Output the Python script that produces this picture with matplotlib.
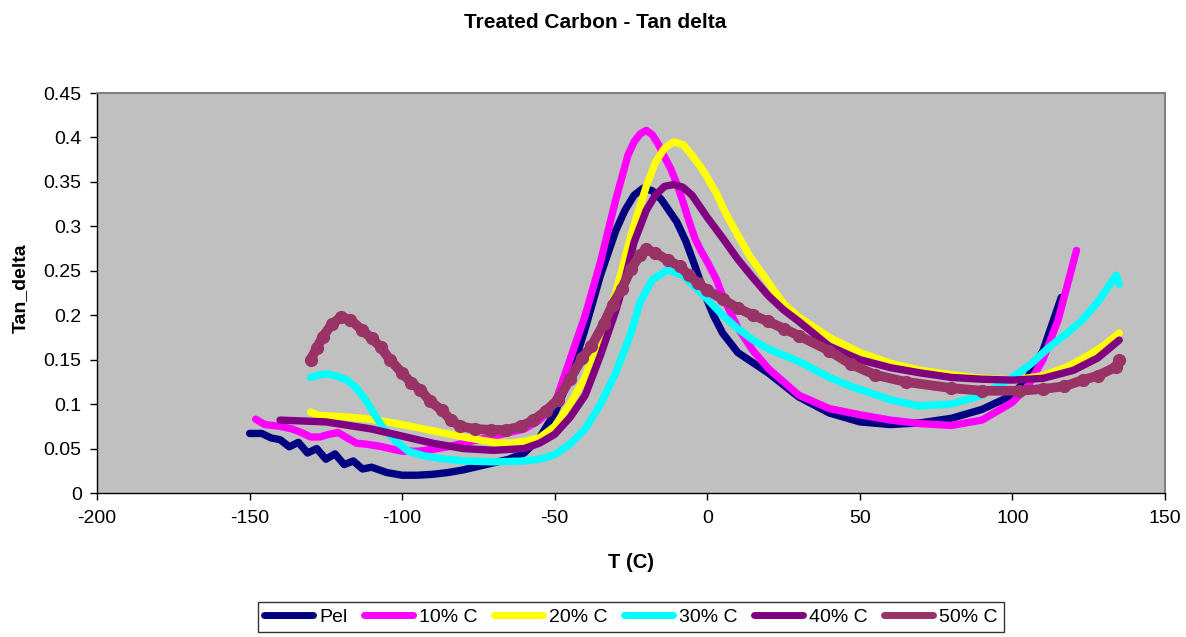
import matplotlib
matplotlib.use("Agg")
import matplotlib.pyplot as plt

plt.rcParams['font.family'] = ['Liberation Sans', 'DejaVu Sans']

title = "Treated Carbon - Tan delta"
xlabel = "T (C)"
ylabel = "Tan_delta"
series_names = ["Pel", "10% C", "20% C", "30% C", "40% C", "50% C"]
series_colors = ["#000080", "#FF00FF", "#FFFF00", "#00FFFF", "#800080", "#993366"]

pel_T = [-150, -146, -143, -140, -137, -134, -131, -128, -125, -122, -119, -116, -113, -110, -105, -100,
         -95, -90, -85, -80, -75, -70, -65, -60, -55, -50, -45, -40, -35, -30, -27, -24, -21, -18, -15, -12,
         -10, -7, -4, -1, 2, 5, 10, 20, 30, 40, 50, 60, 70, 80, 90, 100, 105, 110, 116]
pel_v = [0.067, 0.067, 0.062, 0.060, 0.052, 0.057, 0.045, 0.050, 0.038, 0.044, 0.032, 0.036, 0.027, 0.029,
         0.023, 0.020, 0.020, 0.021, 0.023, 0.026, 0.030, 0.034, 0.038, 0.045, 0.062, 0.090, 0.130, 0.185,
         0.245, 0.295, 0.318, 0.335, 0.343, 0.340, 0.330, 0.315, 0.305, 0.283, 0.255, 0.225, 0.200, 0.180,
         0.158, 0.135, 0.108, 0.090, 0.080, 0.077, 0.079, 0.084, 0.094, 0.110, 0.130, 0.160, 0.220]

c10_T = [-148, -145, -140, -136, -133, -130, -127, -124, -121, -118, -115, -112, -108, -104, -100, -95, -90,
         -85, -80, -75, -70, -65, -60, -55, -50, -45, -40, -35, -30, -26, -24, -22, -20, -18, -16, -14, -12,
         -10, -8, -6, -4, -2, 0, 3, 5, 8, 10, 15, 20, 30, 40, 50, 60, 70, 80, 90, 100, 105, 110, 115, 121]
c10_v = [0.083, 0.077, 0.075, 0.072, 0.068, 0.063, 0.063, 0.066, 0.068, 0.062, 0.056, 0.055, 0.053, 0.050,
         0.047, 0.047, 0.049, 0.052, 0.056, 0.060, 0.064, 0.068, 0.072, 0.082, 0.100, 0.150, 0.200, 0.260,
         0.330, 0.380, 0.395, 0.404, 0.408, 0.403, 0.392, 0.378, 0.365, 0.348, 0.328, 0.306, 0.286, 0.272,
         0.260, 0.240, 0.222, 0.200, 0.186, 0.160, 0.140, 0.110, 0.095, 0.088, 0.082, 0.078, 0.076, 0.082,
         0.102, 0.120, 0.150, 0.195, 0.273]

c20_T = [-130, -127, -120, -110, -100, -90, -80, -70, -65, -60, -55, -50, -45, -40, -35, -30, -25, -20, -17,
         -14, -11, -8, -5, -2, 0, 3, 6, 10, 14, 20, 25, 30, 40, 50, 60, 70, 80, 90, 100, 110, 118, 125, 130, 135]
c20_v = [0.091, 0.087, 0.086, 0.083, 0.077, 0.070, 0.063, 0.057, 0.056, 0.058, 0.062, 0.075, 0.100, 0.130,
         0.180, 0.225, 0.290, 0.345, 0.372, 0.388, 0.395, 0.392, 0.380, 0.366, 0.355, 0.337, 0.315, 0.290,
         0.266, 0.237, 0.213, 0.198, 0.175, 0.158, 0.146, 0.138, 0.133, 0.129, 0.127, 0.132, 0.142, 0.155,
         0.166, 0.180]

c30_T = [-130, -127, -124, -121, -118, -115, -112, -109, -106, -102, -98, -93, -88, -80, -70, -60, -55, -50,
         -45, -40, -35, -30, -25, -22, -18, -13, -8, -4, 0, 5, 10, 15, 20, 30, 40, 47, 60, 69, 80, 90, 100,
         106, 112, 118, 123, 128, 134, 135]
c30_v = [0.130, 0.133, 0.134, 0.131, 0.127, 0.118, 0.105, 0.088, 0.072, 0.058, 0.047, 0.042, 0.039, 0.036,
         0.035, 0.036, 0.038, 0.043, 0.055, 0.072, 0.100, 0.135, 0.180, 0.215, 0.240, 0.251, 0.245, 0.232,
         0.218, 0.200, 0.185, 0.172, 0.162, 0.148, 0.130, 0.120, 0.105, 0.098, 0.100, 0.110, 0.130, 0.145,
         0.164, 0.180, 0.195, 0.215, 0.245, 0.235]

c40_T = [-140, -125, -110, -100, -90, -80, -70, -60, -55, -50, -45, -40, -35, -30, -27, -24, -20, -17, -14,
         -11, -8, -5, -2, 0, 5, 10, 15, 20, 25, 30, 40, 50, 60, 70, 80, 90, 100, 110, 120, 128, 135]
c40_v = [0.082, 0.080, 0.072, 0.064, 0.056, 0.050, 0.048, 0.050, 0.056, 0.066, 0.085, 0.110, 0.155, 0.205,
         0.240, 0.282, 0.318, 0.335, 0.345, 0.347, 0.344, 0.335, 0.320, 0.310, 0.287, 0.263, 0.242, 0.222,
         0.206, 0.193, 0.165, 0.150, 0.141, 0.135, 0.130, 0.128, 0.127, 0.129, 0.138, 0.152, 0.172]

c50_T = [-130, -128, -126, -123, -120, -117, -113, -110, -107, -104, -100, -97, -94, -91, -87, -84, -81, -76,
         -71, -66, -61, -57, -53, -49, -45, -41, -38, -34, -31, -28, -25, -22, -20, -17, -13, -9, -6, -3, 0,
         5, 10, 15, 20, 25, 30, 40, 47, 55, 65, 80, 90, 102, 110, 117, 123, 128, 134, 135]
c50_v = [0.150, 0.163, 0.176, 0.190, 0.198, 0.195, 0.183, 0.174, 0.164, 0.150, 0.135, 0.124, 0.116, 0.104,
         0.093, 0.082, 0.075, 0.072, 0.071, 0.071, 0.075, 0.082, 0.092, 0.105, 0.128, 0.152, 0.165, 0.190,
         0.212, 0.230, 0.252, 0.268, 0.274, 0.270, 0.262, 0.255, 0.245, 0.236, 0.228, 0.218, 0.208, 0.200,
         0.193, 0.185, 0.177, 0.160, 0.145, 0.133, 0.125, 0.118, 0.115, 0.115, 0.117, 0.120, 0.127, 0.132,
         0.142, 0.150]

xticks = [-200, -150, -100, -50, 0, 50, 100, 150]
yticks = [0, 0.05, 0.1, 0.15, 0.2, 0.25, 0.3, 0.35, 0.4, 0.45]
ytick_labels = ["0", "0.05", "0.1", "0.15", "0.2", "0.25", "0.3", "0.35", "0.4", "0.45"]

fig = plt.figure(figsize=(11.86, 6.37), dpi=100)
ax = fig.add_axes([97 / 1186, 1 - 493 / 637, (1165 - 97) / 1186, (493 - 93) / 637])
ax.set_facecolor("#C0C0C0")

data = [(pel_T, pel_v), (c10_T, c10_v), (c20_T, c20_v), (c30_T, c30_v), (c40_T, c40_v), (c50_T, c50_v)]
for i, ((t, v), name, col) in enumerate(zip(data, series_names, series_colors)):
    if i == 5:
        ax.plot(t, v, color=col, lw=7, marker='o', ms=8.5, solid_capstyle='round',
                solid_joinstyle='round', label=name)
    else:
        ax.plot(t, v, color=col, lw=5.3, solid_capstyle='round', solid_joinstyle='round', label=name)

ax.set_xlim(-200, 150)
ax.set_ylim(0, 0.45)
ax.set_xticks(xticks)
ax.set_xticklabels([str(x) for x in xticks], fontsize=14)
ax.set_yticks(yticks)
ax.set_yticklabels(ytick_labels, fontsize=14)
ax.tick_params(axis='x', direction='out', length=5, width=1, colors='black', pad=7)
ax.tick_params(axis='y', direction='out', length=5, width=1, colors='black', pad=6)
for s in ['left', 'bottom']:
    ax.spines[s].set_color('black')
    ax.spines[s].set_linewidth(1)
for s in ['top', 'right']:
    ax.spines[s].set_color('#808080')
    ax.spines[s].set_linewidth(1.5)

fig.text(20 / 1186, 1 - 288 / 637, ylabel, rotation=90, ha='center', va='center',
         fontsize=14, fontweight='bold')
fig.text(631 / 1186, 1 - 562 / 637, xlabel, ha='center', va='center', fontsize=14.5, fontweight='bold')
fig.text(595 / 1186, 1 - 22 / 637, title, ha='center', va='center', fontsize=15, fontweight='bold')

leg = ax.legend(loc='center', bbox_to_anchor=(0.5, -0.31), ncol=6, frameon=True, fancybox=False,
                edgecolor='black', fontsize=14, handlelength=2.5, handletextpad=0.33,
                columnspacing=0.85, borderpad=0.3, borderaxespad=0)
leg.get_frame().set_linewidth(1)
for line in leg.get_lines():
    line.set_linewidth(5)
    line.set_marker('')
    line.set_solid_capstyle('round')

fig.savefig("out.png", dpi=100, facecolor='white')
